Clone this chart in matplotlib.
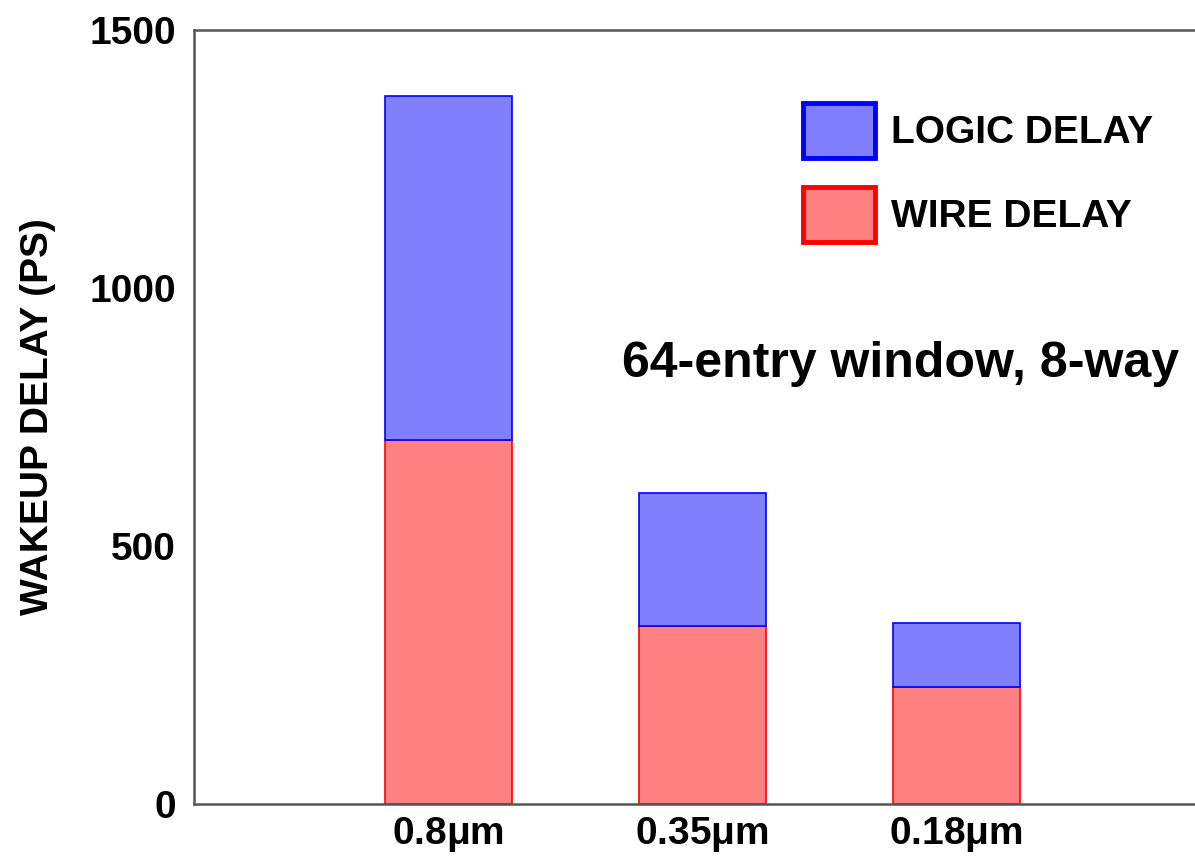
import numpy as np
import matplotlib.pyplot as plt
from matplotlib.patches import Patch

nodes = ['0.8$\\mathregular{\\mu}$m', '0.35$\\mathregular{\\mu}$m', '0.18$\\mathregular{\\mu}$m']
wire_delay = [706, 345, 227]
logic_delay = [666, 258, 124]   # stacked on top of wire delay

plt.rcParams['font.family'] = ['Liberation Sans', 'DejaVu Sans']
plt.rcParams['font.weight'] = 'bold'
plt.rcParams['mathtext.fontset'] = 'custom'
plt.rcParams['mathtext.rm'] = 'DejaVu Serif'

fig = plt.figure(figsize=(11.95, 8.58), dpi=100)
ax = fig.add_axes([0.1623, 0.063, 0.8377, 0.902])

x = np.arange(len(nodes))
barWidth = 0.5
ax.bar(x, wire_delay, width=barWidth, color='#ff8080', edgecolor='red', linewidth=1.2)
ax.bar(x, logic_delay, bottom=wire_delay, width=barWidth, color='#8080ff',
       edgecolor='blue', linewidth=1.2)

ax.set_xlim(-1.0, 2.94)
ax.set_ylim(0, 1500)
ax.set_yticks([0, 500, 1000, 1500])
ax.set_xticks(x)
ax.set_xticklabels(nodes)
ax.tick_params(axis='both', length=0, labelsize=28)
ax.tick_params(axis='y', pad=13)
ax.tick_params(axis='x', pad=8)
for lab in ax.get_xticklabels() + ax.get_yticklabels():
    lab.set_fontweight('bold')

for s in ['left', 'bottom', 'top']:
    ax.spines[s].set_color('#555555')
    ax.spines[s].set_linewidth(1.8)
ax.spines['right'].set_visible(False)

ax.set_ylabel('WAKEUP DELAY (PS)', fontsize=28, fontweight='bold', labelpad=24)

ax.text(0.685, 852, '64-entry window, 8-way', fontsize=36, fontweight='bold',
        ha='left', va='center')

handles = [Patch(facecolor='#8080ff', edgecolor='blue', linewidth=3.5, label='LOGIC DELAY'),
           Patch(facecolor='#ff8080', edgecolor='red', linewidth=3.5, label='WIRE DELAY')]
ax.legend(handles=handles, loc='upper left', bbox_to_anchor=(0.589, 0.931),
          frameon=False, borderpad=0, handlelength=1.85,
          handleheight=1.8, labelspacing=0.75, handletextpad=0.41,
          prop={'weight': 'bold', 'size': 28})

fig.savefig('out.png', dpi=100)
